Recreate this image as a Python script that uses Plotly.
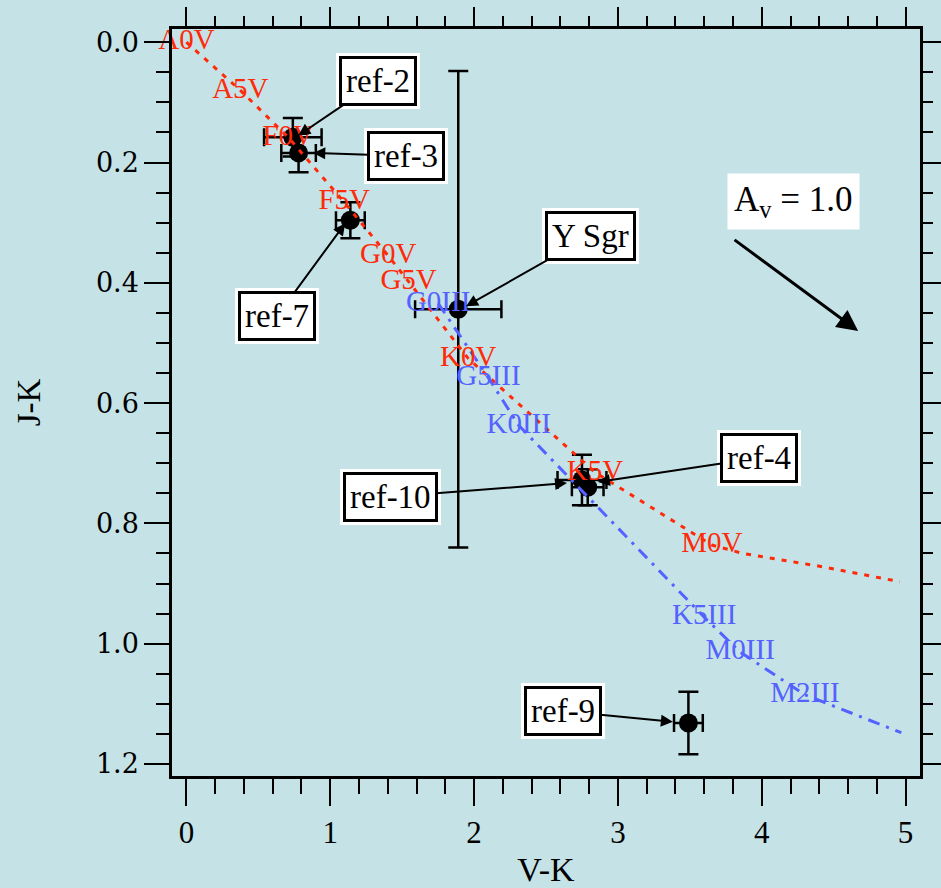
import plotly.graph_objects as go

# ---------------- data ----------------
dwarf_labels = ["A0V", "A5V", "F0V", "F5V", "G0V", "G5V", "K0V", "K5V", "M0V", "", "", ""]
dwarf_vk = [0.00, 0.375, 0.708, 1.097, 1.403, 1.545, 1.960, 2.840, 3.653, 3.87, 4.42, 4.96]
dwarf_jk = [0.00, 0.080, 0.158, 0.266, 0.355, 0.398, 0.526, 0.715, 0.836, 0.850, 0.872, 0.897]

giant_labels = ["G0III", "G5III", "K0III", "K5III", "M0III", "M2III", ""]
giant_vk = [1.75, 2.10, 2.31, 3.60, 3.85, 4.30, 4.97]
giant_jk = [0.434, 0.558, 0.637, 0.956, 1.014, 1.085, 1.148]

star_names = ["ref-2", "ref-3", "ref-7", "Y Sgr", "ref-10", "ref-4", "ref-9"]
star_vk = [0.74, 0.78, 1.14, 1.89, 2.75, 2.79, 3.49]
star_jk = [0.158, 0.184, 0.296, 0.444, 0.728, 0.740, 1.132]
star_vk_err = [0.20, 0.12, 0.10, 0.30, 0.17, 0.11, 0.10]
star_jk_err = [0.032, 0.032, 0.030, 0.396, 0.042, 0.030, 0.052]

# reddening vector for A_V = 1.0
av_value = 1.0
av_start_vk, av_start_jk = 3.79, 0.325
e_vk, e_jk = 0.88, 0.155

x_ticks = [0, 1, 2, 3, 4, 5]
y_ticks = [0.0, 0.2, 0.4, 0.6, 0.8, 1.0, 1.2]

# ---------------- layout helpers (positions of label boxes / arrow tips) ----------------
box_pos = {
    "ref-2": (1.333, 0.065, 0.778, 0.155),
    "ref-3": (1.528, 0.189, 0.882, 0.184),
    "ref-7": (0.632, 0.455, 1.104, 0.301),
    "Y Sgr": (2.806, 0.322, 1.944, 0.439),
    "ref-10": (1.417, 0.756, 2.646, 0.733),
    "ref-4": (3.979, 0.691, 2.861, 0.731),
    "ref-9": (2.618, 1.112, 3.382, 1.130),
}

BG = "#c5e3e6"
RED = "#ff2a0a"
BLUE = "#5462ff"
SERIF = "Liberation Serif"

fig = go.Figure()

# stars with error bars
fig.add_trace(go.Scatter(
    x=star_vk, y=star_jk, mode="markers",
    marker=dict(size=19, color="black"),
    error_x=dict(type="data", array=star_vk_err, color="black", thickness=2.5, width=9),
    error_y=dict(type="data", array=star_jk_err, color="black", thickness=2.5, width=10),
    hoverinfo="text", text=star_names, showlegend=False,
))

# dwarf sequence
fig.add_trace(go.Scatter(
    x=dwarf_vk, y=dwarf_jk, mode="lines",
    line=dict(color=RED, width=3, dash="5px,7px"),
    hoverinfo="skip", showlegend=False,
))
# giant sequence
fig.add_trace(go.Scatter(
    x=giant_vk, y=giant_jk, mode="lines",
    line=dict(color=BLUE, width=3, dash="12px,7px,3px,7px"),
    hoverinfo="skip", showlegend=False,
))
# labels (only labelled points)
dl = [(x, y, t) for x, y, t in zip(dwarf_vk, dwarf_jk, dwarf_labels) if t]
gl = [(x, y, t) for x, y, t in zip(giant_vk, giant_jk, giant_labels) if t]
fig.add_trace(go.Scatter(
    x=[p[0] for p in dl], y=[p[1] for p in dl], mode="text", text=[p[2] for p in dl],
    textposition="middle center",
    textfont=dict(family=SERIF, size=29, color=RED),
    cliponaxis=False, hoverinfo="skip", showlegend=False,
))
fig.add_trace(go.Scatter(
    x=[p[0] for p in gl], y=[p[1] for p in gl], mode="text", text=[p[2] for p in gl],
    textposition="middle center",
    textfont=dict(family=SERIF, size=29, color=BLUE),
    cliponaxis=False, hoverinfo="skip", showlegend=False,
))
# dummy trace for the secondary (top/right) tick axes
fig.add_trace(go.Scatter(x=[None], y=[None], xaxis="x2", yaxis="y2",
                         showlegend=False, hoverinfo="skip"))

annotations = []
for name in star_names:
    bx, by, tx, ty = box_pos[name]
    common = dict(x=tx, y=ty, ax=bx, ay=by, xref="x", yref="y", axref="x", ayref="y",
                  text=name, showarrow=True,
                  font=dict(family=SERIF, size=33, color="black"), bgcolor="white")
    annotations.append(dict(common, bordercolor="white", borderwidth=3, borderpad=7,
                            arrowcolor="rgba(0,0,0,0)", arrowwidth=1, arrowhead=0))
    annotations.append(dict(common, bordercolor="black", borderwidth=3, borderpad=4,
                            arrowcolor="black", arrowwidth=2, arrowhead=2, arrowsize=1.2))

# reddening arrow
annotations.append(dict(
    x=av_start_vk + e_vk * av_value, y=av_start_jk + e_jk * av_value,
    ax=av_start_vk, ay=av_start_jk, xref="x", yref="y", axref="x", ayref="y",
    text=" ", showarrow=True, arrowcolor="black", arrowwidth=3, arrowhead=2, arrowsize=1.4,
))
annotations.append(dict(
    x=4.222, y=0.264, xref="x", yref="y", showarrow=False,
    text="A<sub>v</sub> = %.1f" % av_value, bgcolor="white", borderpad=6,
    font=dict(family=SERIF, size=35, color="black"),
))

fig.update_layout(
    width=941, height=888,
    margin=dict(l=172, r=21, t=29, b=112),
    paper_bgcolor=BG, plot_bgcolor=BG,
    showlegend=False,
    annotations=annotations,
    xaxis=dict(
        range=[-0.1, 5.1], tickmode="array", tickvals=x_ticks,
        ticktext=[str(v) for v in x_ticks], automargin=False,
        ticks="outside", ticklen=27, tickwidth=2, tickcolor="black",
        minor=dict(tickmode="linear", tick0=0, dtick=0.2, ticks="outside",
                   ticklen=15, tickwidth=2, tickcolor="black"),
        showline=True, linewidth=2.5, linecolor="black", mirror=True,
        showgrid=False, zeroline=False,
        tickfont=dict(family=SERIF, size=31, color="black"),
        title=dict(text="V-K", font=dict(family=SERIF, size=34, color="black"), standoff=17),
    ),
    yaxis=dict(
        range=[1.22, -0.022], tickmode="array", tickvals=y_ticks,
        ticktext=["%.1f" % v for v in y_ticks], automargin=False,
        ticks="outside", ticklen=25, tickwidth=2, tickcolor="black",
        minor=dict(tickmode="linear", tick0=0, dtick=0.05, ticks="outside",
                   ticklen=13, tickwidth=2, tickcolor="black"),
        showline=True, linewidth=2.5, linecolor="black", mirror=True,
        showgrid=False, zeroline=False,
        tickfont=dict(family="DejaVu Serif", size=27, color="black"),
        title=dict(text="J-K", font=dict(family=SERIF, size=33, color="black"), standoff=46),
    ),
    xaxis2=dict(
        range=[-0.1, 5.1], overlaying="x", side="top", anchor="y2", automargin=False,
        tickmode="linear", tick0=0, dtick=1,
        ticks="outside", ticklen=21, tickwidth=2, tickcolor="black",
        minor=dict(tickmode="linear", tick0=0, dtick=0.2, ticks="outside",
                   ticklen=12, tickwidth=2, tickcolor="black"),
        showticklabels=False, showline=False, showgrid=False, zeroline=False,
    ),
    yaxis2=dict(
        range=[1.22, -0.022], overlaying="y", side="right", anchor="x2", automargin=False,
        tickmode="linear", tick0=0, dtick=0.2,
        ticks="outside", ticklen=21, tickwidth=2, tickcolor="black",
        minor=dict(tickmode="linear", tick0=0, dtick=0.05, ticks="outside",
                   ticklen=12, tickwidth=2, tickcolor="black"),
        showticklabels=False, showline=False, showgrid=False, zeroline=False,
    ),
)

fig.write_html("out.html")
